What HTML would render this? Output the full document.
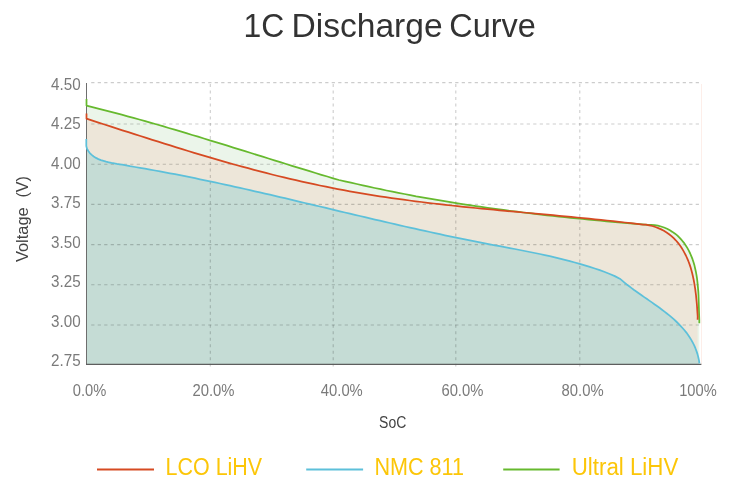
<!DOCTYPE html>
<html><head><meta charset="utf-8"><title>1C Discharge Curve</title>
<style>
html,body{margin:0;padding:0;background:#fff;}
body{width:741px;height:492px;overflow:hidden;font-family:"Liberation Sans",sans-serif;}
svg{display:block;}
text{font-family:"Liberation Sans",sans-serif;}
.tick{font-size:16.6px;fill:#7a7a7a;}
.axl{font-size:16px;fill:#444;}
.axv{font-size:16.5px;fill:#444;}
.leg{font-size:23px;fill:#fcc608;}
</style></head><body>
<svg width="741" height="492" viewBox="0 0 741 492">
<rect width="741" height="492" fill="#fff"/>
<text y="37.1" font-size="32.3" fill="#333"><tspan x="243.40" textLength="40.80" lengthAdjust="spacingAndGlyphs">1C</tspan> <tspan x="291.45" textLength="151.18" lengthAdjust="spacingAndGlyphs">Discharge</tspan> <tspan x="449.30" textLength="86.60" lengthAdjust="spacingAndGlyphs">Curve</tspan></text>
<path d="M86.5,99.0 L86.5,105.6 L92.4,107.1 L98.2,108.6 L104.1,110.1 L110.0,111.6 L115.9,113.1 L121.7,114.7 L127.6,116.3 L133.5,117.9 L139.3,119.5 L145.2,121.2 L151.1,122.9 L157.0,124.5 L162.8,126.2 L168.7,128.0 L174.6,129.7 L180.5,131.4 L186.3,133.2 L192.2,135.0 L198.1,136.7 L203.9,138.5 L209.8,140.3 L215.7,142.1 L221.6,143.9 L227.4,145.7 L233.3,147.6 L239.2,149.4 L245.0,151.2 L250.9,153.0 L256.8,154.9 L262.7,156.7 L268.5,158.5 L274.4,160.3 L280.3,162.2 L286.2,164.0 L292.0,165.8 L297.9,167.6 L303.8,169.4 L309.6,171.2 L315.5,173.0 L321.4,174.8 L327.3,176.5 L333.1,178.3 L339.0,180.0 L344.9,181.3 L350.9,182.7 L356.8,184.0 L362.8,185.4 L368.7,186.7 L374.7,188.0 L380.6,189.2 L386.5,190.5 L392.5,191.7 L398.4,192.9 L404.4,194.0 L410.3,195.1 L416.2,196.3 L422.2,197.3 L428.1,198.4 L434.1,199.4 L440.0,200.4 L446.0,201.4 L451.9,202.4 L457.8,203.3 L463.8,204.3 L469.7,205.2 L475.7,206.1 L481.6,206.9 L487.6,207.8 L493.5,208.6 L499.4,209.4 L505.4,210.2 L511.3,211.0 L517.3,211.7 L523.2,212.5 L529.2,213.2 L535.1,213.9 L541.0,214.6 L547.0,215.3 L552.9,215.9 L558.9,216.6 L564.8,217.2 L570.8,217.8 L576.7,218.4 L582.6,219.0 L588.6,219.6 L594.5,220.2 L600.5,220.7 L606.4,221.3 L612.3,221.8 L618.3,222.3 L624.2,222.8 L630.2,223.3 L636.1,223.8 L642.1,224.3 L648.0,224.8 L651.2,224.8 L654.6,225.1 L657.9,225.7 L661.0,226.5 L664.1,227.5 L667.1,228.7 L669.9,230.2 L672.5,231.9 L675.1,233.7 L677.5,235.7 L679.7,237.9 L681.8,240.2 L683.8,242.6 L685.6,245.2 L687.3,247.9 L688.8,250.6 L690.2,253.5 L691.4,256.4 L692.6,259.4 L693.6,262.5 L694.5,265.6 L695.2,268.7 L695.9,271.9 L696.5,275.1 L697.0,278.3 L697.4,281.6 L697.7,284.9 L698.0,288.2 L698.3,291.4 L698.5,294.7 L698.6,298.0 L698.7,301.2 L698.8,304.5 L698.9,307.7 L699.0,310.8 L699.1,313.9 L699.2,317.0 L699.3,320.0 L699.3,323.3 L699.3,364.5 L87,364.5 Z" fill="#ebf5ea"/>
<path d="M86.5,113.6 L86.5,118.7 L92.5,120.6 L98.5,122.6 L104.5,124.5 L110.4,126.4 L116.4,128.3 L122.4,130.3 L128.4,132.2 L134.4,134.1 L140.4,136.0 L146.3,137.9 L152.3,139.8 L158.3,141.7 L164.3,143.6 L170.3,145.4 L176.3,147.3 L182.2,149.1 L188.2,151.0 L194.2,152.8 L200.2,154.6 L206.2,156.4 L212.2,158.1 L218.1,159.9 L224.1,161.6 L230.1,163.3 L236.1,165.0 L242.1,166.6 L248.1,168.2 L254.0,169.8 L260.0,171.4 L266.0,172.9 L272.0,174.5 L278.0,176.0 L284.0,177.4 L290.0,178.8 L295.9,180.2 L301.9,181.6 L307.9,182.9 L313.9,184.2 L319.9,185.5 L325.9,186.7 L331.8,187.9 L337.8,189.1 L343.8,190.2 L349.8,191.3 L355.8,192.3 L361.8,193.4 L367.7,194.4 L373.7,195.3 L379.7,196.3 L385.7,197.2 L391.7,198.1 L397.7,198.9 L403.6,199.7 L409.6,200.5 L415.6,201.3 L421.6,202.0 L427.6,202.8 L433.6,203.5 L439.5,204.2 L445.5,204.8 L451.5,205.5 L457.5,206.1 L463.5,206.8 L469.5,207.4 L475.5,208.0 L481.4,208.6 L487.4,209.2 L493.4,209.7 L499.4,210.3 L505.4,210.8 L511.4,211.4 L517.3,211.9 L523.3,212.5 L529.3,213.0 L535.3,213.6 L541.3,214.1 L547.3,214.7 L553.2,215.2 L559.2,215.8 L565.2,216.3 L571.2,216.9 L577.2,217.5 L583.2,218.1 L589.1,218.7 L595.1,219.3 L601.1,219.9 L607.1,220.5 L613.1,221.2 L619.1,221.8 L625.0,222.5 L631.0,223.2 L637.0,223.9 L643.0,224.7 L646.0,224.7 L649.2,225.3 L652.3,226.0 L655.4,227.0 L658.3,228.1 L661.2,229.4 L663.9,230.8 L666.6,232.5 L669.1,234.2 L671.5,236.1 L673.7,238.2 L675.8,240.3 L677.8,242.6 L679.7,245.0 L681.4,247.5 L683.0,250.1 L684.5,252.8 L685.9,255.5 L687.2,258.3 L688.4,261.2 L689.5,264.1 L690.5,267.1 L691.4,270.2 L692.2,273.2 L692.9,276.3 L693.6,279.5 L694.2,282.6 L694.7,285.8 L695.2,288.9 L695.6,292.1 L696.0,295.2 L696.3,298.4 L696.6,301.5 L696.9,304.6 L697.1,307.6 L697.3,310.6 L697.5,313.6 L697.7,316.5 L697.6,319.7 L697.6,364.5 L87,364.5 Z" fill="#ede6d9"/>
<path d="M86.3,138.9 L86.3,146.0 L87.0,148.7 L88.3,151.0 L89.8,153.1 L91.7,154.9 L93.7,156.5 L96.0,157.9 L98.4,159.1 L100.9,160.1 L103.5,160.9 L106.1,161.7 L108.8,162.3 L111.5,162.9 L114.2,163.4 L116.9,163.9 L119.6,164.3 L122.2,164.7 L124.8,165.2 L127.4,165.7 L130.0,166.2 L135.0,167.0 L140.0,167.8 L145.0,168.7 L150.0,169.6 L155.0,170.5 L160.0,171.4 L165.0,172.3 L170.0,173.3 L175.0,174.2 L180.0,175.2 L185.0,176.2 L190.0,177.2 L195.0,178.2 L200.0,179.3 L205.0,180.3 L210.0,181.4 L215.0,182.4 L220.0,183.5 L225.0,184.6 L230.0,185.7 L235.0,186.8 L240.0,187.9 L245.0,189.0 L250.0,190.2 L254.9,191.3 L259.9,192.4 L264.9,193.6 L269.9,194.7 L274.9,195.9 L279.9,197.1 L284.9,198.2 L289.9,199.4 L294.9,200.6 L299.9,201.8 L304.9,203.0 L309.9,204.2 L314.9,205.3 L319.9,206.5 L324.9,207.7 L329.9,208.9 L334.9,210.1 L339.9,211.3 L344.9,212.5 L349.9,213.7 L354.9,214.8 L359.9,216.0 L364.9,217.2 L369.9,218.4 L374.9,219.6 L379.9,220.7 L384.9,221.9 L389.9,223.0 L394.9,224.2 L399.9,225.3 L404.9,226.5 L409.9,227.6 L414.9,228.7 L419.9,229.8 L424.9,230.9 L429.9,232.0 L434.9,233.1 L439.9,234.2 L444.9,235.3 L449.9,236.3 L454.9,237.4 L459.9,238.4 L464.9,239.4 L469.9,240.4 L474.9,241.4 L479.9,242.4 L484.9,243.4 L489.9,244.3 L494.9,245.3 L499.8,246.2 L504.8,247.1 L509.8,248.1 L514.8,249.0 L519.8,250.0 L524.8,251.0 L529.8,252.0 L534.8,253.0 L539.8,254.0 L544.8,255.1 L549.8,256.2 L554.8,257.4 L559.8,258.6 L564.8,259.8 L569.8,261.1 L574.8,262.5 L579.8,263.9 L584.8,265.3 L589.8,266.9 L594.8,268.5 L599.8,270.2 L604.8,272.0 L609.8,274.0 L614.8,276.1 L619.8,278.7 L622.2,280.7 L624.5,282.6 L626.8,284.5 L629.2,286.3 L631.6,288.1 L634.1,290.0 L636.6,291.7 L639.1,293.5 L641.6,295.3 L644.2,297.1 L646.7,298.8 L649.3,300.6 L651.9,302.4 L654.4,304.2 L657.0,306.0 L659.5,307.8 L662.0,309.7 L664.5,311.6 L666.9,313.5 L669.3,315.4 L671.7,317.4 L674.0,319.4 L676.2,321.5 L678.4,323.6 L680.5,325.8 L682.5,328.0 L684.5,330.3 L686.4,332.6 L688.1,335.0 L689.8,337.5 L691.4,340.1 L692.8,342.7 L694.2,345.4 L695.4,348.2 L696.5,351.1 L697.5,354.1 L698.3,357.2 L699.0,360.4 L699.4,363.4 L699.4,364.5 L87,364.5 Z" fill="#c5dcd5"/>
<line x1="701.5" y1="84" x2="701.5" y2="364" stroke="#fdeee9" stroke-width="1"/>
<line x1="91.2" y1="82.6" x2="699.2" y2="82.6" stroke="rgba(0,0,0,0.2)" stroke-width="1.1" stroke-dasharray="3.25 3.25"/>
<line x1="91.2" y1="124.0" x2="699.2" y2="124.0" stroke="rgba(0,0,0,0.2)" stroke-width="1.1" stroke-dasharray="3.25 3.25"/>
<line x1="91.2" y1="164.2" x2="699.2" y2="164.2" stroke="rgba(0,0,0,0.2)" stroke-width="1.1" stroke-dasharray="3.25 3.25"/>
<line x1="91.2" y1="204.4" x2="699.2" y2="204.4" stroke="rgba(0,0,0,0.2)" stroke-width="1.1" stroke-dasharray="3.25 3.25"/>
<line x1="91.2" y1="244.6" x2="699.2" y2="244.6" stroke="rgba(0,0,0,0.2)" stroke-width="1.1" stroke-dasharray="3.25 3.25"/>
<line x1="91.2" y1="284.8" x2="699.2" y2="284.8" stroke="rgba(0,0,0,0.2)" stroke-width="1.1" stroke-dasharray="3.25 3.25"/>
<line x1="91.2" y1="325.0" x2="699.2" y2="325.0" stroke="rgba(0,0,0,0.2)" stroke-width="1.1" stroke-dasharray="3.25 3.25"/>
<line x1="210.3" y1="83.9" x2="210.3" y2="366.6" stroke="rgba(0,0,0,0.2)" stroke-width="1.1" stroke-dasharray="3 3.508"/>
<line x1="333.2" y1="83.9" x2="333.2" y2="366.6" stroke="rgba(0,0,0,0.2)" stroke-width="1.1" stroke-dasharray="3 3.508"/>
<line x1="455.8" y1="83.9" x2="455.8" y2="366.6" stroke="rgba(0,0,0,0.2)" stroke-width="1.1" stroke-dasharray="3 3.508"/>
<line x1="579.8" y1="83.9" x2="579.8" y2="366.6" stroke="rgba(0,0,0,0.2)" stroke-width="1.1" stroke-dasharray="3 3.508"/>
<line x1="86.5" y1="83" x2="86.5" y2="365" stroke="#5e5e5e" stroke-width="0.9"/>
<line x1="86" y1="364.4" x2="701.4" y2="364.4" stroke="#5e5e5e" stroke-width="1.1"/>
<path d="M86.5,99.0 L86.5,105.6 L92.4,107.1 L98.2,108.6 L104.1,110.1 L110.0,111.6 L115.9,113.1 L121.7,114.7 L127.6,116.3 L133.5,117.9 L139.3,119.5 L145.2,121.2 L151.1,122.9 L157.0,124.5 L162.8,126.2 L168.7,128.0 L174.6,129.7 L180.5,131.4 L186.3,133.2 L192.2,135.0 L198.1,136.7 L203.9,138.5 L209.8,140.3 L215.7,142.1 L221.6,143.9 L227.4,145.7 L233.3,147.6 L239.2,149.4 L245.0,151.2 L250.9,153.0 L256.8,154.9 L262.7,156.7 L268.5,158.5 L274.4,160.3 L280.3,162.2 L286.2,164.0 L292.0,165.8 L297.9,167.6 L303.8,169.4 L309.6,171.2 L315.5,173.0 L321.4,174.8 L327.3,176.5 L333.1,178.3 L339.0,180.0 L344.9,181.3 L350.9,182.7 L356.8,184.0 L362.8,185.4 L368.7,186.7 L374.7,188.0 L380.6,189.2 L386.5,190.5 L392.5,191.7 L398.4,192.9 L404.4,194.0 L410.3,195.1 L416.2,196.3 L422.2,197.3 L428.1,198.4 L434.1,199.4 L440.0,200.4 L446.0,201.4 L451.9,202.4 L457.8,203.3 L463.8,204.3 L469.7,205.2 L475.7,206.1 L481.6,206.9 L487.6,207.8 L493.5,208.6 L499.4,209.4 L505.4,210.2 L511.3,211.0 L517.3,211.7 L523.2,212.5 L529.2,213.2 L535.1,213.9 L541.0,214.6 L547.0,215.3 L552.9,215.9 L558.9,216.6 L564.8,217.2 L570.8,217.8 L576.7,218.4 L582.6,219.0 L588.6,219.6 L594.5,220.2 L600.5,220.7 L606.4,221.3 L612.3,221.8 L618.3,222.3 L624.2,222.8 L630.2,223.3 L636.1,223.8 L642.1,224.3 L648.0,224.8 L651.2,224.8 L654.6,225.1 L657.9,225.7 L661.0,226.5 L664.1,227.5 L667.1,228.7 L669.9,230.2 L672.5,231.9 L675.1,233.7 L677.5,235.7 L679.7,237.9 L681.8,240.2 L683.8,242.6 L685.6,245.2 L687.3,247.9 L688.8,250.6 L690.2,253.5 L691.4,256.4 L692.6,259.4 L693.6,262.5 L694.5,265.6 L695.2,268.7 L695.9,271.9 L696.5,275.1 L697.0,278.3 L697.4,281.6 L697.7,284.9 L698.0,288.2 L698.3,291.4 L698.5,294.7 L698.6,298.0 L698.7,301.2 L698.8,304.5 L698.9,307.7 L699.0,310.8 L699.1,313.9 L699.2,317.0 L699.3,320.0 L699.3,323.3" fill="none" stroke="#66b92e" stroke-width="1.75" stroke-linejoin="round"/>
<path d="M86.3,138.9 L86.3,146.0 L87.0,148.7 L88.3,151.0 L89.8,153.1 L91.7,154.9 L93.7,156.5 L96.0,157.9 L98.4,159.1 L100.9,160.1 L103.5,160.9 L106.1,161.7 L108.8,162.3 L111.5,162.9 L114.2,163.4 L116.9,163.9 L119.6,164.3 L122.2,164.7 L124.8,165.2 L127.4,165.7 L130.0,166.2 L135.0,167.0 L140.0,167.8 L145.0,168.7 L150.0,169.6 L155.0,170.5 L160.0,171.4 L165.0,172.3 L170.0,173.3 L175.0,174.2 L180.0,175.2 L185.0,176.2 L190.0,177.2 L195.0,178.2 L200.0,179.3 L205.0,180.3 L210.0,181.4 L215.0,182.4 L220.0,183.5 L225.0,184.6 L230.0,185.7 L235.0,186.8 L240.0,187.9 L245.0,189.0 L250.0,190.2 L254.9,191.3 L259.9,192.4 L264.9,193.6 L269.9,194.7 L274.9,195.9 L279.9,197.1 L284.9,198.2 L289.9,199.4 L294.9,200.6 L299.9,201.8 L304.9,203.0 L309.9,204.2 L314.9,205.3 L319.9,206.5 L324.9,207.7 L329.9,208.9 L334.9,210.1 L339.9,211.3 L344.9,212.5 L349.9,213.7 L354.9,214.8 L359.9,216.0 L364.9,217.2 L369.9,218.4 L374.9,219.6 L379.9,220.7 L384.9,221.9 L389.9,223.0 L394.9,224.2 L399.9,225.3 L404.9,226.5 L409.9,227.6 L414.9,228.7 L419.9,229.8 L424.9,230.9 L429.9,232.0 L434.9,233.1 L439.9,234.2 L444.9,235.3 L449.9,236.3 L454.9,237.4 L459.9,238.4 L464.9,239.4 L469.9,240.4 L474.9,241.4 L479.9,242.4 L484.9,243.4 L489.9,244.3 L494.9,245.3 L499.8,246.2 L504.8,247.1 L509.8,248.1 L514.8,249.0 L519.8,250.0 L524.8,251.0 L529.8,252.0 L534.8,253.0 L539.8,254.0 L544.8,255.1 L549.8,256.2 L554.8,257.4 L559.8,258.6 L564.8,259.8 L569.8,261.1 L574.8,262.5 L579.8,263.9 L584.8,265.3 L589.8,266.9 L594.8,268.5 L599.8,270.2 L604.8,272.0 L609.8,274.0 L614.8,276.1 L619.8,278.7 L622.2,280.7 L624.5,282.6 L626.8,284.5 L629.2,286.3 L631.6,288.1 L634.1,290.0 L636.6,291.7 L639.1,293.5 L641.6,295.3 L644.2,297.1 L646.7,298.8 L649.3,300.6 L651.9,302.4 L654.4,304.2 L657.0,306.0 L659.5,307.8 L662.0,309.7 L664.5,311.6 L666.9,313.5 L669.3,315.4 L671.7,317.4 L674.0,319.4 L676.2,321.5 L678.4,323.6 L680.5,325.8 L682.5,328.0 L684.5,330.3 L686.4,332.6 L688.1,335.0 L689.8,337.5 L691.4,340.1 L692.8,342.7 L694.2,345.4 L695.4,348.2 L696.5,351.1 L697.5,354.1 L698.3,357.2 L699.0,360.4 L699.4,363.4" fill="none" stroke="#5dc0da" stroke-width="1.75" stroke-linejoin="round"/>
<path d="M86.5,113.6 L86.5,118.7 L92.5,120.6 L98.5,122.6 L104.5,124.5 L110.4,126.4 L116.4,128.3 L122.4,130.3 L128.4,132.2 L134.4,134.1 L140.4,136.0 L146.3,137.9 L152.3,139.8 L158.3,141.7 L164.3,143.6 L170.3,145.4 L176.3,147.3 L182.2,149.1 L188.2,151.0 L194.2,152.8 L200.2,154.6 L206.2,156.4 L212.2,158.1 L218.1,159.9 L224.1,161.6 L230.1,163.3 L236.1,165.0 L242.1,166.6 L248.1,168.2 L254.0,169.8 L260.0,171.4 L266.0,172.9 L272.0,174.5 L278.0,176.0 L284.0,177.4 L290.0,178.8 L295.9,180.2 L301.9,181.6 L307.9,182.9 L313.9,184.2 L319.9,185.5 L325.9,186.7 L331.8,187.9 L337.8,189.1 L343.8,190.2 L349.8,191.3 L355.8,192.3 L361.8,193.4 L367.7,194.4 L373.7,195.3 L379.7,196.3 L385.7,197.2 L391.7,198.1 L397.7,198.9 L403.6,199.7 L409.6,200.5 L415.6,201.3 L421.6,202.0 L427.6,202.8 L433.6,203.5 L439.5,204.2 L445.5,204.8 L451.5,205.5 L457.5,206.1 L463.5,206.8 L469.5,207.4 L475.5,208.0 L481.4,208.6 L487.4,209.2 L493.4,209.7 L499.4,210.3 L505.4,210.8 L511.4,211.4 L517.3,211.9 L523.3,212.5 L529.3,213.0 L535.3,213.6 L541.3,214.1 L547.3,214.7 L553.2,215.2 L559.2,215.8 L565.2,216.3 L571.2,216.9 L577.2,217.5 L583.2,218.1 L589.1,218.7 L595.1,219.3 L601.1,219.9 L607.1,220.5 L613.1,221.2 L619.1,221.8 L625.0,222.5 L631.0,223.2 L637.0,223.9 L643.0,224.7 L646.0,224.7 L649.2,225.3 L652.3,226.0 L655.4,227.0 L658.3,228.1 L661.2,229.4 L663.9,230.8 L666.6,232.5 L669.1,234.2 L671.5,236.1 L673.7,238.2 L675.8,240.3 L677.8,242.6 L679.7,245.0 L681.4,247.5 L683.0,250.1 L684.5,252.8 L685.9,255.5 L687.2,258.3 L688.4,261.2 L689.5,264.1 L690.5,267.1 L691.4,270.2 L692.2,273.2 L692.9,276.3 L693.6,279.5 L694.2,282.6 L694.7,285.8 L695.2,288.9 L695.6,292.1 L696.0,295.2 L696.3,298.4 L696.6,301.5 L696.9,304.6 L697.1,307.6 L697.3,310.6 L697.5,313.6 L697.7,316.5 L697.6,319.7" fill="none" stroke="#d64a22" stroke-width="1.75" stroke-linejoin="round"/>
<text class="tick" x="51" y="89.7" textLength="29.6" lengthAdjust="spacingAndGlyphs">4.50</text>
<text class="tick" x="51" y="129.2" textLength="29.6" lengthAdjust="spacingAndGlyphs">4.25</text>
<text class="tick" x="51" y="168.7" textLength="29.6" lengthAdjust="spacingAndGlyphs">4.00</text>
<text class="tick" x="51" y="208.2" textLength="29.6" lengthAdjust="spacingAndGlyphs">3.75</text>
<text class="tick" x="51" y="247.7" textLength="29.6" lengthAdjust="spacingAndGlyphs">3.50</text>
<text class="tick" x="51" y="287.2" textLength="29.6" lengthAdjust="spacingAndGlyphs">3.25</text>
<text class="tick" x="51" y="326.7" textLength="29.6" lengthAdjust="spacingAndGlyphs">3.00</text>
<text class="tick" x="51" y="366.2" textLength="29.6" lengthAdjust="spacingAndGlyphs">2.75</text>
<text class="tick" x="72.8" y="396.2" textLength="33.5" lengthAdjust="spacingAndGlyphs">0.0%</text>
<text class="tick" x="192.4" y="396.2" textLength="42.1" lengthAdjust="spacingAndGlyphs">20.0%</text>
<text class="tick" x="320.8" y="396.2" textLength="42.0" lengthAdjust="spacingAndGlyphs">40.0%</text>
<text class="tick" x="441.4" y="396.2" textLength="42.0" lengthAdjust="spacingAndGlyphs">60.0%</text>
<text class="tick" x="561.6" y="396.2" textLength="42.1" lengthAdjust="spacingAndGlyphs">80.0%</text>
<text class="tick" x="679.2" y="396.2" textLength="37.5" lengthAdjust="spacingAndGlyphs">100%</text>
<text class="axl" x="379.1" y="427.6" textLength="27.2" lengthAdjust="spacingAndGlyphs">SoC</text>
<text class="axv" transform="translate(27.6,262.1) rotate(-90)"><tspan x="0" y="0" textLength="54.8" lengthAdjust="spacingAndGlyphs">Voltage</tspan> <tspan x="64.5" y="0" textLength="21.4" lengthAdjust="spacingAndGlyphs">(V)</tspan></text>
<line x1="97" y1="469.5" x2="154" y2="469.5" stroke="#d64a22" stroke-width="2"/>
<text class="leg" x="165.6" y="475" textLength="96.6" lengthAdjust="spacingAndGlyphs">LCO LiHV</text>
<line x1="306.2" y1="469.5" x2="363.1" y2="469.5" stroke="#5dc0da" stroke-width="2"/>
<text class="leg" x="374.4" y="475" textLength="89.6" lengthAdjust="spacingAndGlyphs">NMC 811</text>
<line x1="503.2" y1="469.5" x2="559.6" y2="469.5" stroke="#66b92e" stroke-width="2"/>
<text class="leg" x="571.7" y="475" textLength="106.6" lengthAdjust="spacingAndGlyphs">Ultral LiHV</text>
</svg></body></html>
